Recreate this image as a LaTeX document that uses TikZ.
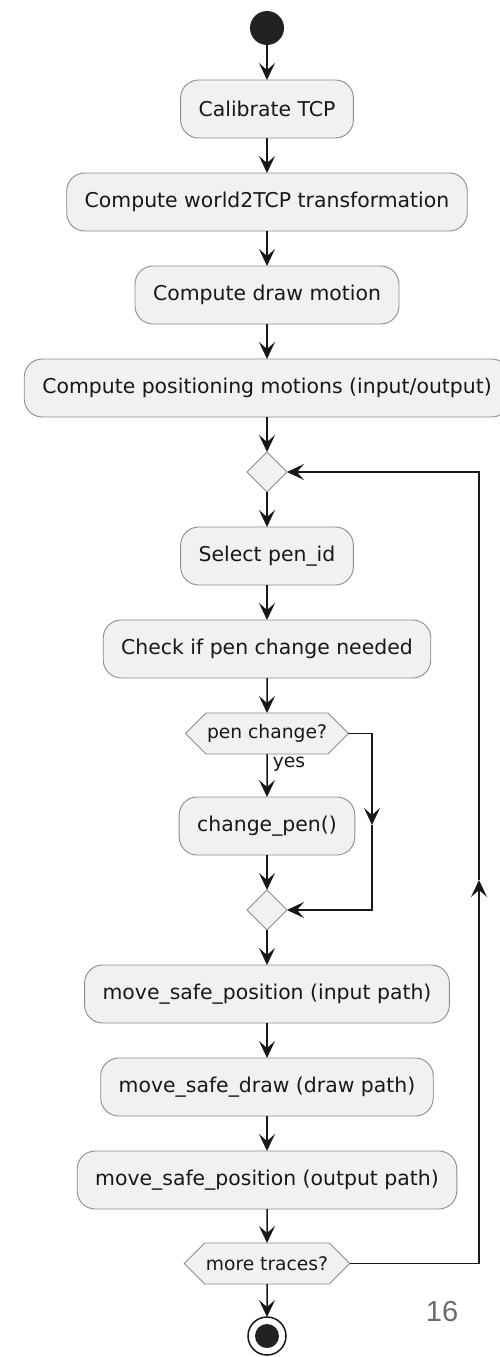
\documentclass[tikz,border=0pt]{standalone}
\usepackage{fontspec}
\setmainfont{DejaVu Sans}
\newfontfamily\pagefont{Liberation Sans}
\usetikzlibrary{positioning,shapes.geometric,shapes.symbols,arrows.meta}
\definecolor{actfill}{HTML}{F1F1F1}
\definecolor{actline}{HTML}{8C8C8C}
\definecolor{flowline}{HTML}{181818}
\definecolor{dotfill}{HTML}{222222}

\begin{document}
\begin{tikzpicture}[->,>={Stealth[length=17pt,width=16pt,inset=7pt]},line width=1.5pt,color=flowline,
  x=1pt,y=1pt,node distance=35pt]
  \tikzstyle{activity}=[rectangle,rounded corners=18pt,draw=actline,fill=actfill,line width=0.9pt,
    outer sep=0pt,minimum height=58pt,inner xsep=18pt,font=\fontsize{20.4}{24}\selectfont]
  \tikzstyle{merge}=[diamond,draw=actline,fill=actfill,line width=0.9pt,outer sep=0pt,
    inner sep=0pt,minimum size=40pt]
  \tikzstyle{choice}=[signal,signal to=west and east,signal pointer angle=90,draw=actline,
    fill=actfill,line width=0.9pt,outer sep=0pt,minimum height=41pt,inner xsep=1pt,
    font=\fontsize{18.7}{22}\selectfont]
  \tikzstyle{guard}=[inner sep=1pt,font=\fontsize{18.7}{22}\selectfont]
  \tikzstyle{startdot}=[circle,fill=dotfill,outer sep=0pt,minimum size=34pt,inner sep=0pt]
  \tikzstyle{enddot}=[circle,draw=flowline,fill=white,line width=1.5pt,outer sep=0pt,
    minimum size=38pt,inner sep=0pt,
    path picture={\fill[dotfill] (path picture bounding box.center) circle (12pt);}]
  \tikzstyle{pagenum}=[text=black!58,font=\pagefont\fontsize{29}{32}\selectfont]

  \useasboundingbox (0,0) rectangle (499,-1357);

  \node [startdot] (start) at (267,-28) {};
  \node [activity] (calib) [below=of start] {Calibrate TCP};
  \node [activity] (world) [below=of calib] {Compute world2TCP transformation};
  \node [activity] (drawmot) [below=of world] {Compute draw motion};
  \node [activity] (posmot) [below=of drawmot] {Compute positioning motions (input/output)};
  \node [merge] (loop) [below=of posmot] {};
  \node [activity] (select) [below=of loop] {Select pen\_id};
  \node [activity] (check) [below=of select] {Check if pen change needed};
  \node [choice] (pen) [below=of check] {pen change?};
  \node [activity] (change) [below=43pt of pen] {change\_pen()};
  \node [merge] (join) [below=of change] {};
  \node [activity] (input) [below=of join] {move\_safe\_position (input path)};
  \node [activity] (safedraw) [below=of input] {move\_safe\_draw (draw path)};
  \node [activity] (output) [below=of safedraw] {move\_safe\_position (output path)};
  \node [choice] (more) [below=34pt of output] {more traces?};
  \node [enddot] (stop) [below=33pt of more] {};
  \node [guard,anchor=north west] (yes) at ([xshift=4pt,yshift=-1pt]pen.south) {yes};
  \node [pagenum] (pageno) at (442,-1311) {16};

  \coordinate (skipdown) at (372,-825);
  \coordinate (backup) at (479,-880);

  \path (start) edge (calib)
        (calib) edge (world)
        (world) edge (drawmot)
        (drawmot) edge (posmot)
        (posmot) edge (loop)
        (loop) edge (select)
        (select) edge (check)
        (check) edge (pen)
        (pen) edge (change)
        (change) edge (join)
        (join) edge (input)
        (input) edge (safedraw)
        (safedraw) edge (output)
        (output) edge (more)
        (more) edge (stop);

  \draw (pen.east) -| (skipdown);
  \draw (skipdown) |- (join.east);
  \draw (more.east) -| (backup);
  \draw (backup) |- (loop.east);
\end{tikzpicture}
\end{document}
